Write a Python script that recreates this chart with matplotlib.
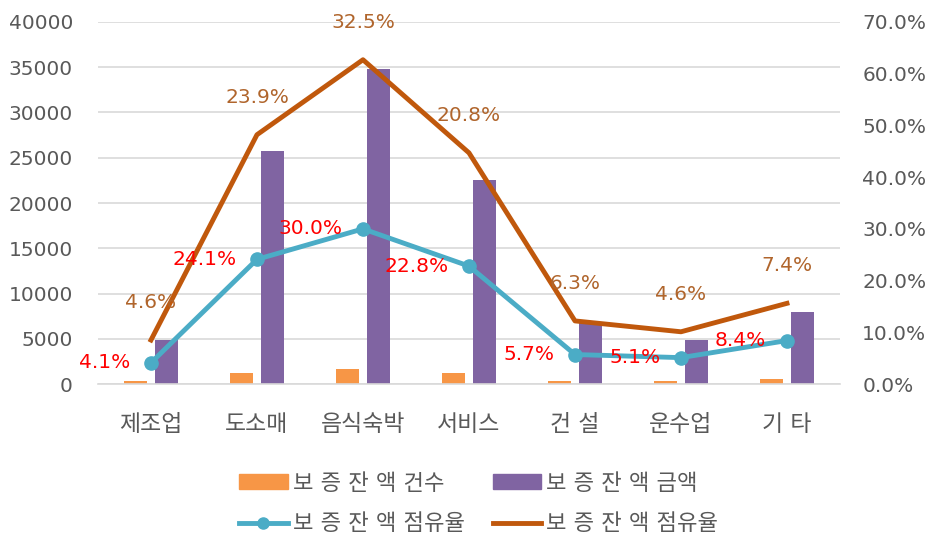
import matplotlib
matplotlib.use("Agg")
import matplotlib.pyplot as plt
from matplotlib.patches import Patch
from matplotlib.lines import Line2D
import numpy as np

plt.rcParams['font.family'] = ['DejaVu Sans', 'Noto Sans CJK KR']

categories = ['제조업', '도소매', '음식숙박', '서비스', '건 설', '운수업', '기 타']
count_values = [300, 1200, 1650, 1200, 300, 300, 550]          # 보증잔액 건수
amount_values = [4900, 25800, 34800, 22500, 6800, 4900, 8000]   # 보증잔액 금액
share_blue = [4.1, 24.1, 30.0, 22.8, 5.7, 5.1, 8.4]             # 점유율 (blue, right axis)
share_brown_plot = [8.5, 48.2, 62.7, 44.7, 12.2, 10.1, 15.6]    # brown line as drawn on right axis
share_brown_labels = [4.6, 23.9, 32.5, 20.8, 6.3, 4.6, 7.4]     # brown line data labels
left_ticks = [0, 5000, 10000, 15000, 20000, 25000, 30000, 35000, 40000]
right_ticks = [0, 10, 20, 30, 40, 50, 60, 70]
series_names = ['보 증 잔 액 건수', '보 증 잔 액 금액', '보 증 잔 액 점유율', '보 증 잔 액 점유율']

c_orange = '#F79646'
c_purple = '#8064A2'
c_blue = '#4BACC6'
c_brown = '#C0580C'
c_brown_lab = '#B0652C'
c_tick = '#595959'
c_grid = '#D9D9D9'

fs_num = 14.5

fig = plt.figure(figsize=(9.33, 5.43), dpi=100)
ax = fig.add_axes([0.105, 0.2928, 0.7953, 0.6667])
ax2 = ax.twinx()

x = np.arange(len(categories))
w = 0.22
off = 0.145
ax.bar(x - off, count_values, width=w, color=c_orange, zorder=2)
ax.bar(x + off, amount_values, width=w, color=c_purple, zorder=2)

ax.set_xlim(-0.5, len(categories) - 0.5)
ax.set_ylim(0, 40000)
ax.set_yticks(left_ticks)
ax.set_yticklabels([str(v) for v in left_ticks])
ax.set_xticks(x)
ax.set_xticklabels(categories, fontsize=16.5)
ax.yaxis.grid(True, color=c_grid, linewidth=1.2, zorder=0)
ax.set_axisbelow(True)
for s in ['top', 'right', 'left']:
    ax.spines[s].set_visible(False)
ax.spines['bottom'].set_color(c_grid)
ax.spines['bottom'].set_linewidth(1.2)
ax.tick_params(axis='both', length=0, colors=c_tick)
ax.tick_params(axis='y', labelsize=fs_num, pad=18)
ax.tick_params(axis='x', pad=21)

ax2.plot(x, share_brown_plot, color=c_brown, linewidth=3.5, zorder=3)
ax2.plot(x, share_blue, color=c_blue, linewidth=3.5, marker='o', markersize=9.5, zorder=4)
ax2.set_ylim(0, 70)
ax2.set_yticks(right_ticks)
ax2.set_yticklabels([f'{v:.1f}%' for v in right_ticks])
for s in ['top', 'right', 'left', 'bottom']:
    ax2.spines[s].set_visible(False)
ax2.tick_params(axis='y', length=0, labelsize=fs_num, colors=c_tick, pad=16)

for xi, yv, lab in zip(x, share_brown_plot, share_brown_labels):
    ax2.annotate(f'{lab:.1f}%', (xi, yv), xytext=(0, 27), textcoords='offset points',
                 ha='center', va='center', fontsize=fs_num, color=c_brown_lab, zorder=5)
for xi, yv in zip(x, share_blue):
    ax2.annotate(f'{yv:.1f}%', (xi, yv), xytext=(-15, 0), textcoords='offset points',
                 ha='right', va='center', fontsize=fs_num, color='#FF0000', zorder=5)

handles = [Patch(color=c_orange), Line2D([], [], color=c_blue, linewidth=3.5, marker='o', markersize=8),
           Patch(color=c_purple), Line2D([], [], color=c_brown, linewidth=3.5)]
labels = [series_names[0], series_names[2], series_names[1], series_names[3]]
leg = fig.legend(handles, labels, ncol=2, loc='center', bbox_to_anchor=(0.513, 0.0727),
                 frameon=False, fontsize=16, handlelength=2.2, handleheight=0.68,
                 handletextpad=0.22, columnspacing=1.25, labelspacing=0.9)
for t in leg.get_texts():
    t.set_color(c_tick)

fig.savefig('out.png', dpi=100)
